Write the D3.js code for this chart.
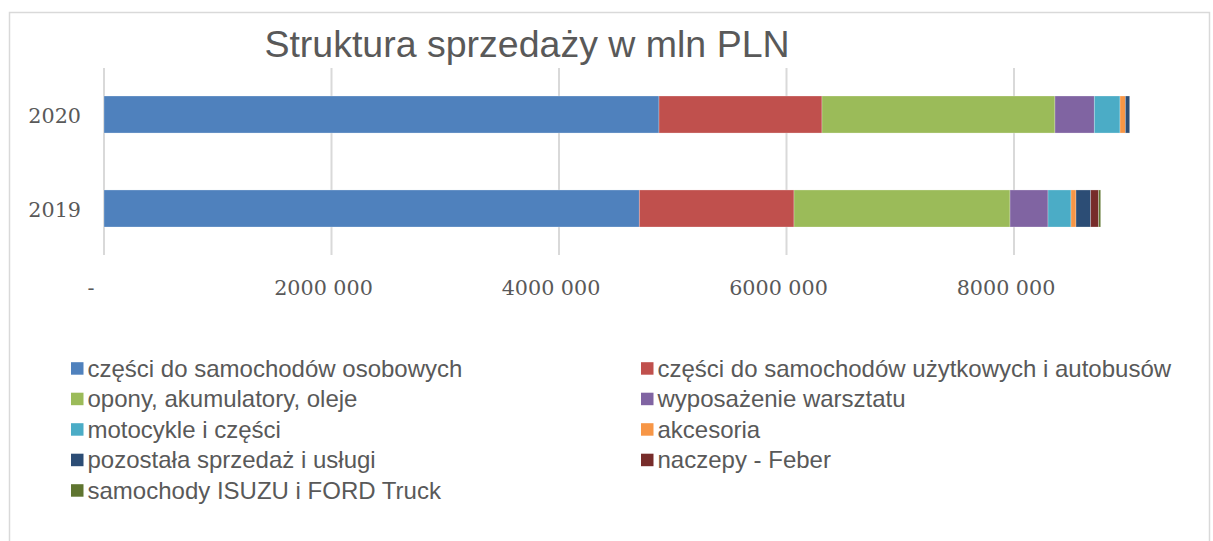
<!DOCTYPE html>
<html><head><meta charset="utf-8">
<script src="https://cdn.jsdelivr.net/npm/d3@7"></script>
<style>body{margin:0;background:#fff}svg{display:block}</style>
</head><body>
<svg id="c" width="1213" height="541"></svg>
<script>
const years = ["2020", "2019"];
const seriesNames = [
  "części do samochodów osobowych",
  "części do samochodów użytkowych i autobusów",
  "opony, akumulatory, oleje",
  "wyposażenie warsztatu",
  "motocykle i części",
  "akcesoria",
  "pozostała sprzedaż i usługi",
  "naczepy - Feber",
  "samochody ISUZU i FORD Truck"
];
const colors = ["#4F81BD","#C0504D","#9BBB59","#8064A2","#4BACC6","#F79646","#2C4D75","#772C2A","#5F7530"];
const values2020 = [4879000, 1433000, 2048000, 346000, 226000, 47000, 38000, 0, 0];
const values2019 = [4706000, 1360000, 1899000, 334000, 202000, 44000, 129000, 70000, 18000];
const tickValues = [0, 2000000, 4000000, 6000000, 8000000];
const tickLabels = ["-", "2000 000", "4000 000", "6000 000", "8000 000"];
const title = "Struktura sprzedaży w mln PLN";

const svg = d3.select("#c");
// chart border
svg.append("rect").attr("x", 9.5).attr("y", 12.5).attr("width", 1200).attr("height", 540)
  .attr("fill", "#fff").attr("stroke", "#D9D9D9").attr("stroke-width", 1.5);

const x = d3.scaleLinear().domain([0, 10000000]).range([104, 104 + 1137.5]);
const y = d3.scaleBand().domain(years).range([68, 255]).paddingInner(0.606).paddingOuter(0.298);

// gridlines
svg.append("g").selectAll("line").data(tickValues.slice(1)).join("line")
  .attr("x1", d => x(d)).attr("x2", d => x(d)).attr("y1", 68).attr("y2", 255)
  .attr("stroke", "#D9D9D9").attr("stroke-width", 2);
// axis line
svg.append("line").attr("x1", x(0)).attr("x2", x(0)).attr("y1", 68).attr("y2", 255)
  .attr("stroke", "#D9D9D9").attr("stroke-width", 2);

const dataByYear = {"2020": values2020, "2019": values2019};
const rows = years.map(yr => {
  const o = {year: yr};
  seriesNames.forEach((s, i) => o[s] = dataByYear[yr][i]);
  return o;
});
const stack = d3.stack().keys(seriesNames)(rows);

svg.append("g").selectAll("g").data(stack).join("g")
  .attr("fill", (d, i) => colors[i])
  .selectAll("rect").data(d => d).join("rect")
  .attr("x", d => x(d[0]))
  .attr("width", d => Math.max(0, x(d[1]) - x(d[0])))
  .attr("y", d => y(d.data.year))
  .attr("height", y.bandwidth())
  .attr("stroke", "#fff").attr("stroke-opacity", 0.35).attr("stroke-width", 0.75);

// x tick labels
svg.append("g").selectAll("text").data(tickValues).join("text")
  .attr("x", (d, i) => i === 0 ? x(d) - 13 : x(d) - 8)
  .attr("y", 295)
  .attr("text-anchor", "middle")
  .attr("font-family", "'DejaVu Serif', 'Liberation Serif', serif")
  .attr("font-size", 20.7).attr("fill", "#595959")
  .text((d, i) => tickLabels[i]);

// y labels
svg.append("g").selectAll("text").data(years).join("text")
  .attr("x", 81).attr("y", d => y(d) + y.bandwidth() / 2 + 8.5)
  .attr("text-anchor", "end")
  .attr("font-family", "'DejaVu Serif', 'Liberation Serif', serif")
  .attr("font-size", 20.7).attr("fill", "#595959")
  .text(d => d);

// title
svg.append("text").attr("x", 527).attr("y", 57).attr("text-anchor", "middle")
  .attr("font-family", "'Liberation Sans', Arial, sans-serif").attr("font-size", 37.5)
  .attr("fill", "#595959").text(title);

// legend
const lg = svg.append("g");
const items = lg.selectAll("g").data(seriesNames).join("g")
  .attr("transform", (d, i) => `translate(${i % 2 === 0 ? 71 : 641},${376.7 + Math.floor(i / 2) * 30.5})`);
items.append("rect").attr("x", 0).attr("y", -14.5).attr("width", 12.5).attr("height", 12.5)
  .attr("fill", (d, i) => colors[i]);
items.append("text").attr("x", 16.5).attr("y", 0)
  .attr("font-family", "'Liberation Sans', Arial, sans-serif").attr("font-size", 24)
  .attr("fill", "#595959").text(d => d);
</script>
</body></html>
